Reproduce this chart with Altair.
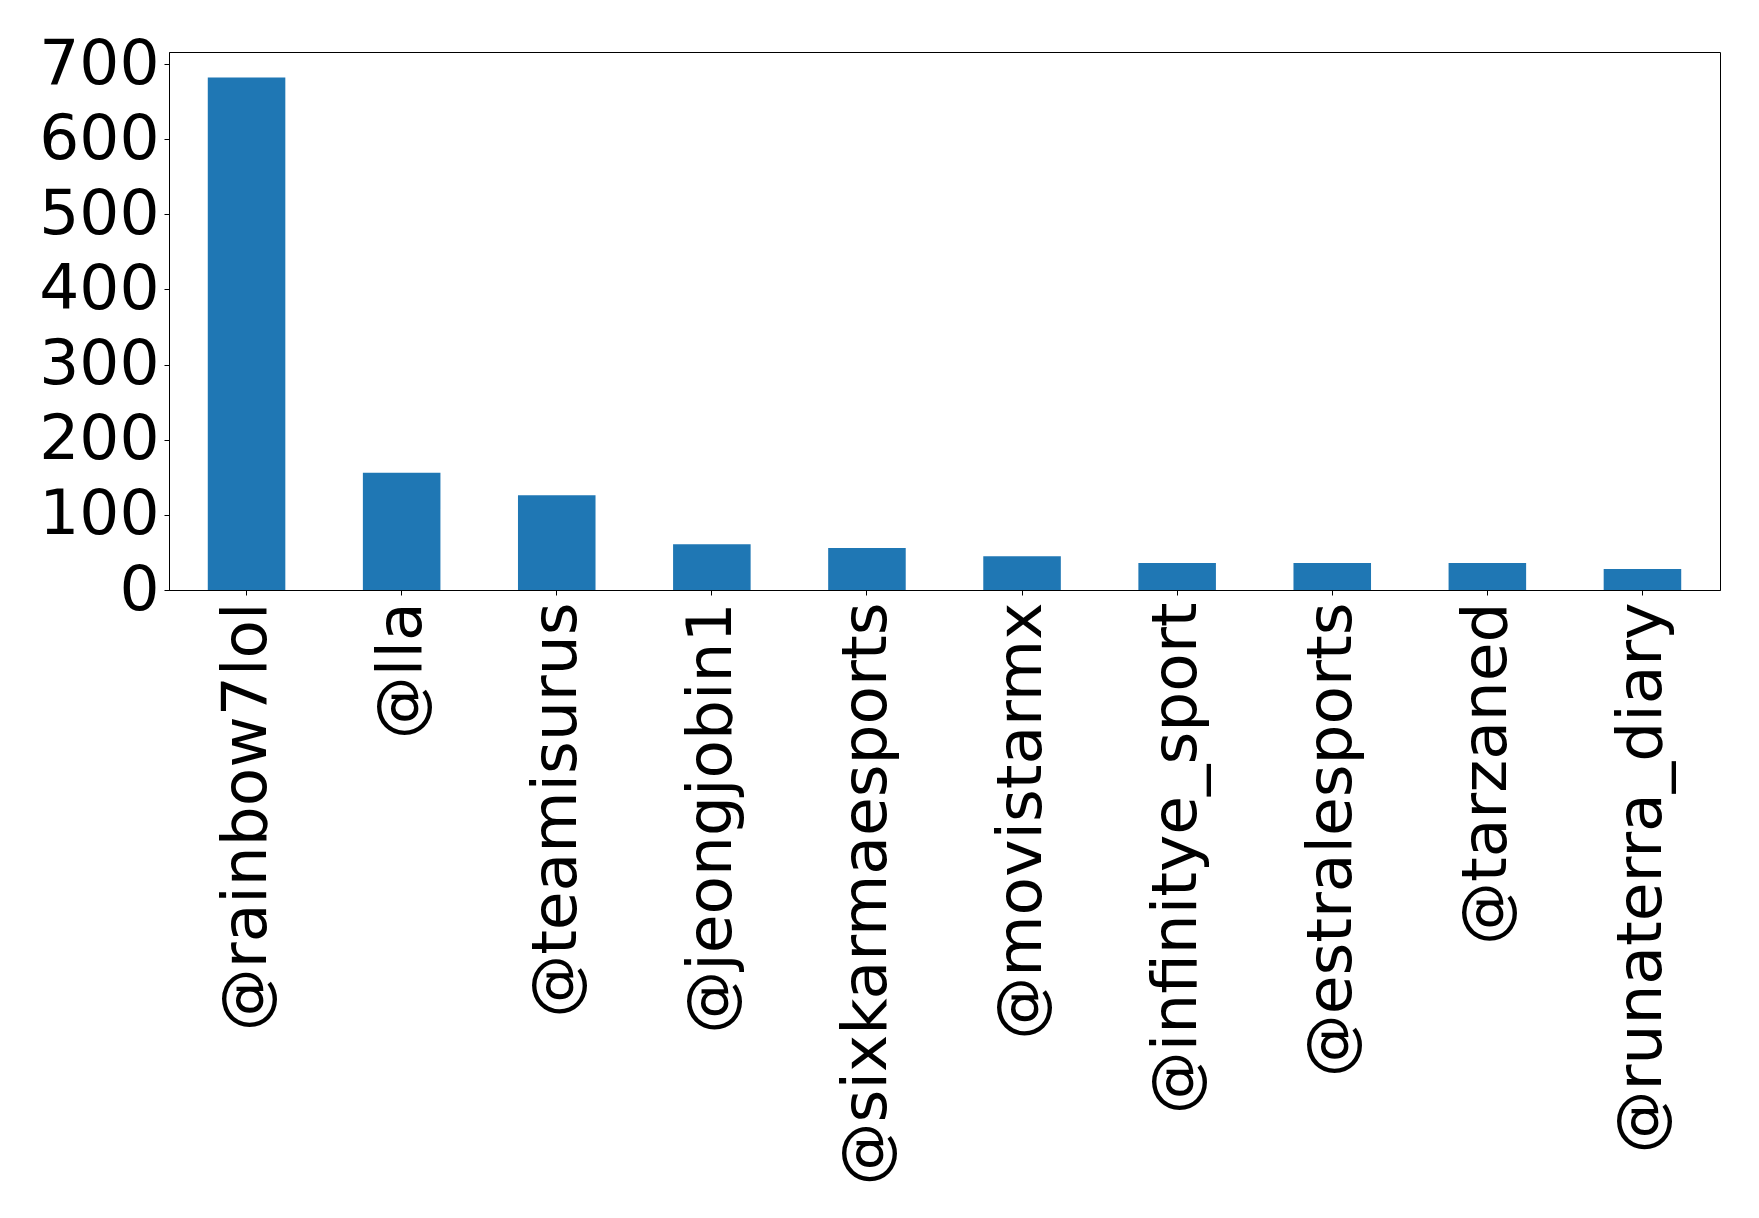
import altair as alt
import pandas as pd

accounts = ["@rainbow7lol", "@lla", "@teamisurus", "@jeongjobin1", "@sixkarmaesports",
            "@movistarmx", "@infinitye_sport", "@estralesports", "@tarzaned", "@runaterra_diary"]
counts = [682, 156, 126, 61, 56, 45, 36, 36, 36, 28]
y_ticks = [0, 100, 200, 300, 400, 500, 600, 700]

df = pd.DataFrame({"account": accounts, "count": counts})

FONT = "DejaVu Sans"

chart = alt.Chart(df).mark_bar(color="#1f77b4").encode(
    x=alt.X("account:N", sort=accounts,
            scale=alt.Scale(paddingInner=0.5, paddingOuter=0.25),
            axis=alt.Axis(title=None, labelAngle=270, labelFontSize=63, labelFont=FONT,
                          labelColor="black", tickColor="black", tickSize=5,
                          domainColor="black", labelPadding=7, labelOverlap=False,
                          labelLimit=0)),
    y=alt.Y("count:Q", scale=alt.Scale(domain=[0, 716], nice=False, zero=True),
            axis=alt.Axis(title=None, values=y_ticks, labelFontSize=63, labelFont=FONT,
                          labelColor="black", tickColor="black", tickSize=5,
                          domainColor="black", grid=False, labelPadding=5,
                          labelOverlap=False, labelFlush=False, labelLimit=0)),
).properties(
    width=1551, height=538,
    autosize=alt.AutoSizeParams(type="none"),
    padding={"left": 161, "top": 44, "right": 30, "bottom": 620},
).configure_view(stroke="black", strokeWidth=1)

chart.save("out.html", embed_options={"renderer": "svg", "actions": False})
